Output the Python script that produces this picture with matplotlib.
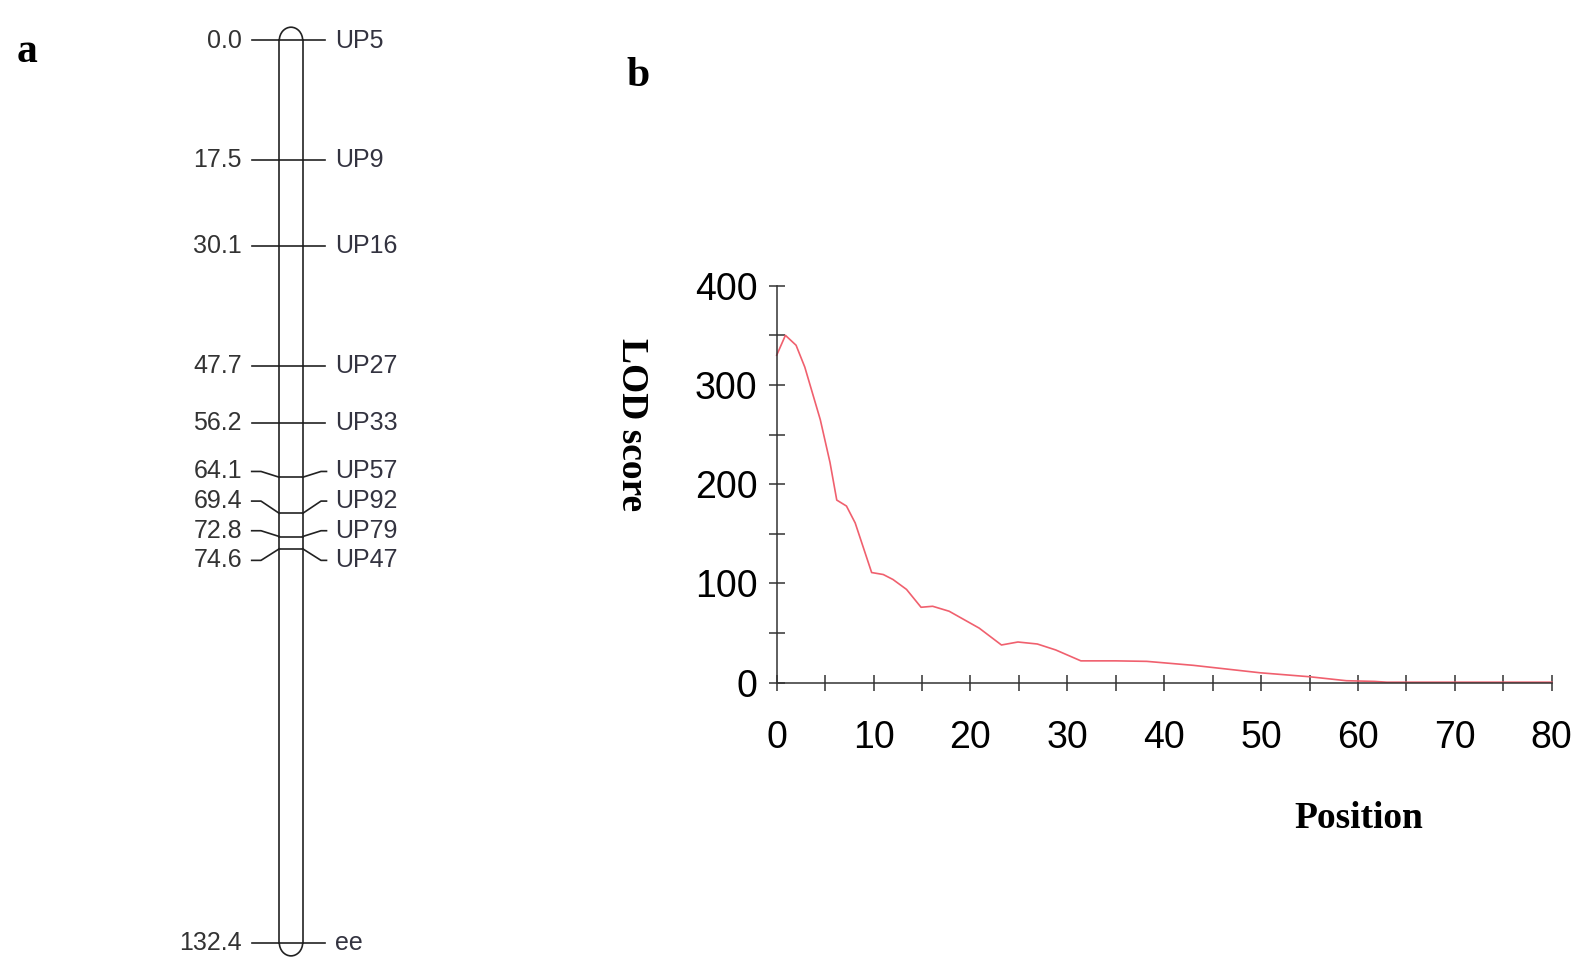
#!/usr/bin/env python3
# -*- coding: utf-8 -*-

import matplotlib
matplotlib.use('Agg')
import matplotlib.pyplot as plt
from matplotlib.patches import Arc
from matplotlib.ticker import MultipleLocator

plt.rcParams['font.family'] = ['Liberation Sans', 'DejaVu Sans']

# --- panel a: linkage group (cM) ---
marker_names = ['UP5', 'UP9', 'UP16', 'UP27', 'UP33', 'UP57', 'UP92', 'UP79', 'UP47', 'ee']
marker_pos = [0.0, 17.5, 30.1, 47.7, 56.2, 64.1, 69.4, 72.8, 74.6, 132.4]

# --- panel b: LOD profile ---
lod_pos = [0, 0.9, 2.0, 2.9, 4.5, 5.5, 6.2, 7.2, 8.1, 9.8, 11.0, 12.0, 13.4, 14.9,
           16.1, 17.8, 20.9, 23.2, 24.9, 26.9, 28.8, 31.4, 35.0, 38.2, 43.0, 49.9,
           55.0, 58.8, 61.7, 63.0, 80.0]
lod_score = [330, 350, 340, 318, 265, 222, 184, 178, 161, 111, 109, 104, 94, 76,
             77, 72, 55, 38, 41, 39, 33, 22, 22, 21.5, 17.5, 10,
             6, 2, 1.3, 0.5, 0.5]

W, H = 1596, 971
fig = plt.figure(figsize=(W / 100, H / 100), dpi=100)


def place_group(pos, g, gap):
    if len(g) == 1:
        return [pos[g[0]]]
    centre = sum(pos[i] for i in g) / len(g) - 0.45
    start = centre - gap * (len(g) - 1) / 2
    return [start + k * gap for k in range(len(g))]


def spread_labels(pos, gap):
    """Merge marker labels into clusters until no two labels overlap"""
    groups = [[i] for i in range(len(pos))]
    merged = True
    while merged:
        merged = False
        for j in range(len(groups) - 1):
            a = place_group(pos, groups[j], gap)
            b = place_group(pos, groups[j + 1], gap)
            if b[0] - a[-1] < gap:
                groups[j] = groups[j] + groups[j + 1]
                del groups[j + 1]
                merged = True
                break
    out = []
    for g in groups:
        out += place_group(pos, g, gap)
    return out


# axes for panel a: x in pixels, y in cM
top_px, bot_px = 40.5, 942.6
ax_a = fig.add_axes([0, 1 - bot_px / H, 420 / W, (bot_px - top_px) / H])
ax_a.set_xlim(0, 420)
ax_a.set_ylim(max(marker_pos), 0)
ax_a.axis('off')

xl, xr = 279.3, 302.7
xc = (xl + xr) / 2
lw = 1.2
col = '#222222'
ax_a.plot([xl, xl], [0, max(marker_pos)], color=col, lw=lw, clip_on=False)
ax_a.plot([xr, xr], [0, max(marker_pos)], color=col, lw=lw, clip_on=False)
cap_h = 3.9
ax_a.add_patch(Arc((xc, 0), xr - xl, cap_h, theta1=180, theta2=360,
                   color=col, lw=lw, clip_on=False))
ax_a.add_patch(Arc((xc, max(marker_pos)), xr - xl, cap_h, theta1=0, theta2=180,
                   color=col, lw=lw, clip_on=False))

label_y = spread_labels(marker_pos, 4.35)
for name, p, ly in zip(marker_names, marker_pos, label_y):
    ax_a.plot([xl, xr], [p, p], color=col, lw=lw, clip_on=False)
    if abs(ly - p) < 1e-6:
        ax_a.plot([251.7, xl], [p, p], color=col, lw=lw, clip_on=False)
        ax_a.plot([xr, 325], [p, p], color=col, lw=lw, clip_on=False)
    else:
        ax_a.plot([251.7, 261, xl], [ly, ly, p], color=col, lw=lw, clip_on=False)
        ax_a.plot([xr, 321, 326.5], [p, ly, ly], color=col, lw=lw, clip_on=False)
    ax_a.text(242, ly, f'{p:.1f}', ha='right', va='center', fontsize=18,
              color='#333333', clip_on=False)
    ax_a.text(335, ly, name, ha='left', va='center', fontsize=18,
              color='#333340', clip_on=False)

# axes for panel b
x0, x1 = 776.7, 1551.7
y0, y1 = 682.7, 285.7
ax_b = fig.add_axes([x0 / W, 1 - y0 / H, (x1 - x0) / W, (y0 - y1) / H])
ax_b.plot(lod_pos, lod_score, color='#f0606e', lw=1.2, clip_on=False)
ax_b.set_xlim(0, 80)
ax_b.set_ylim(0, 400)
for s in ['top', 'right']:
    ax_b.spines[s].set_visible(False)
for s in ['left', 'bottom']:
    ax_b.spines[s].set_color('#333333')
    ax_b.spines[s].set_linewidth(1.1)
ax_b.xaxis.set_major_locator(MultipleLocator(10))
ax_b.xaxis.set_minor_locator(MultipleLocator(5))
ax_b.yaxis.set_major_locator(MultipleLocator(100))
ax_b.yaxis.set_minor_locator(MultipleLocator(50))
ax_b.tick_params(which='both', direction='inout', length=12, width=1.1, color='#333333')
ax_b.tick_params(axis='x', which='major', labelsize=27, pad=21)
ax_b.tick_params(axis='y', which='major', labelsize=27, pad=8)

serif = ['Liberation Serif', 'DejaVu Serif']
fig.text(632 / W, 1 - 425 / H, 'LOD score', rotation=-90, ha='center', va='center',
         fontsize=27, fontweight='bold', family=serif)
fig.text(1359 / W, 1 - 818 / H, 'Position', ha='center', va='center',
         fontsize=27, fontweight='bold', family=serif)
fig.text(27.5 / W, 1 - 52 / H, 'a', ha='center', va='center',
         fontsize=30, fontweight='bold', family=serif)
fig.text(638 / W, 1 - 76 / H, 'b', ha='center', va='center',
         fontsize=30, fontweight='bold', family=serif)

fig.savefig('out.png', dpi=100, facecolor='white')
